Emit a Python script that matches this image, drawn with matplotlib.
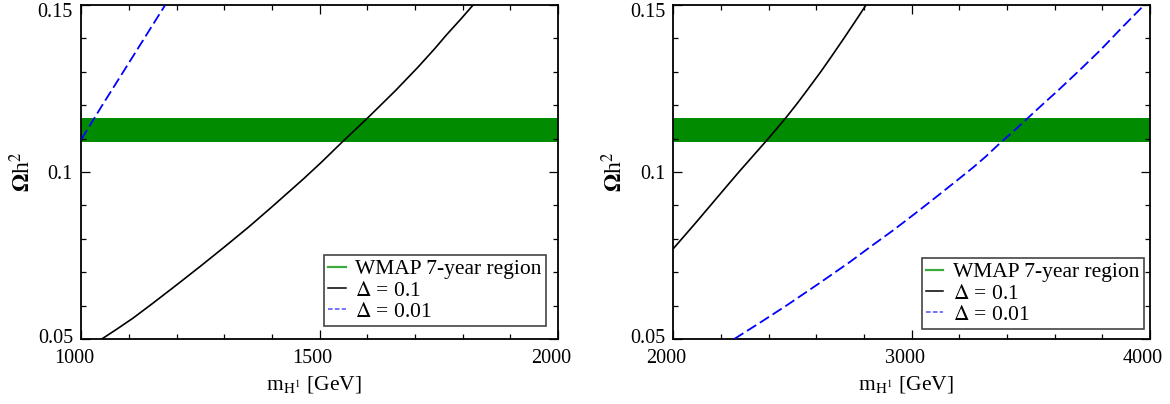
import numpy as np
import matplotlib
matplotlib.use('Agg')
import matplotlib.pyplot as plt
import matplotlib.transforms as mtransforms
from matplotlib.ticker import MultipleLocator, FuncFormatter
from matplotlib.lines import Line2D

plt.rcParams['font.family'] = ['Liberation Serif', 'DejaVu Serif']
plt.rcParams['mathtext.fontset'] = 'stix'

# WMAP 7-year band for Omega h^2
wmap_lo = 0.1089
wmap_hi = 0.1163

# left panel : m_H1 in 1000..2000 GeV
m_left_d01 = [1043, 1075, 1109, 1150, 1200, 1250, 1298, 1350, 1397, 1465, 1505, 1546, 1603, 1660, 1707, 1740, 1767, 1795, 1822]
oh2_left_d01 = [0.0500, 0.0530, 0.0563, 0.0607, 0.0662, 0.0718, 0.0773, 0.0834, 0.0892, 0.0978, 0.1031, 0.1088, 0.1165, 0.1245, 0.1315, 0.1367, 0.1412, 0.1456, 0.1500]
m_left_d001 = [1000, 1044, 1088, 1132, 1176]
oh2_left_d001 = [0.1098, 0.1200, 0.1300, 0.1400, 0.1500]

# right panel : m_H1 in 2000..4000 GeV
m_right_d01 = [2000, 2034, 2090, 2153, 2210, 2272, 2330, 2388, 2435, 2478, 2520, 2560, 2618, 2665, 2713, 2760, 2808]
oh2_right_d01 = [0.0771, 0.0799, 0.0845, 0.0898, 0.0946, 0.0998, 0.1045, 0.1092, 0.1131, 0.1168, 0.1206, 0.1244, 0.1300, 0.1348, 0.1398, 0.1448, 0.1500]
m_right_d001 = [2255, 2370, 2480, 2610, 2741, 2830, 2923, 3020, 3118, 3190, 3258, 3310, 3368, 3430, 3489, 3550, 3615, 3700, 3790, 3880, 3975]
oh2_right_d001 = [0.0500, 0.0552, 0.0603, 0.0666, 0.0731, 0.0778, 0.0826, 0.0879, 0.0934, 0.0975, 0.1014, 0.1046, 0.1085, 0.1124, 0.1163, 0.1203, 0.1245, 0.1302, 0.1364, 0.1431, 0.1500]

legend_labels = ['WMAP 7-year region', r'$\Delta$ = 0.1', r'$\Delta$ = 0.01']

green = '#008b00'
blue = '#0000ff'

fig = plt.figure(figsize=(11.7, 4.04), dpi=100)
ax1 = fig.add_axes([0.0695, 0.1609, 0.4074, 0.8267])
ax2 = fig.add_axes([0.5756, 0.1609, 0.4074, 0.8267])

panels = [
    (ax1, (1000, 2000), 500, 100, m_left_d01, oh2_left_d01, m_left_d001, oh2_left_d001, 0.975, 0.039),
    (ax2, (2000, 4000), 1000, 200, m_right_d01, oh2_right_d01, m_right_d001, oh2_right_d001, 0.9866, 0.03),
]

def ylab(v, p):
    s = '%.2f' % v
    return s.rstrip('0') if s.endswith('0') else s

for ax, xlim, xmaj, xmin, xa, ya, xb, yb, lx, ly in panels:
    ax.axhspan(wmap_lo, wmap_hi, color=green, lw=0, zorder=1)
    ax.plot(xa, ya, color='black', lw=1.2, zorder=3)
    ax.plot(xb, yb, color=blue, lw=1.3, dashes=(6.0, 2.4), zorder=3)

    ax.set_xlim(*xlim)
    ax.set_ylim(0.05, 0.15)
    ax.xaxis.set_major_locator(MultipleLocator(xmaj))
    ax.xaxis.set_minor_locator(MultipleLocator(xmin))
    ax.yaxis.set_major_locator(MultipleLocator(0.05))
    ax.yaxis.set_minor_locator(MultipleLocator(0.01))
    ax.yaxis.set_major_formatter(FuncFormatter(ylab))

    ax.tick_params(which='both', direction='in', top=True, right=True, width=0.9, labelsize=14.5)
    ax.tick_params(which='major', length=6.5, pad=6)
    ax.tick_params(axis='x', which='major', pad=7.5)
    ax.tick_params(which='minor', length=3.6)
    for s in ax.spines.values():
        s.set_linewidth(1.3)

    ax.set_xlabel(r'm$_{\mathrm{H}^1}$ [GeV]', fontsize=15.5)
    ax.set_ylabel(r'$\mathbf{\Omega}$h$^2$', fontsize=17)
    ax.xaxis.set_label_coords(0.488, -0.105)
    ax.yaxis.set_label_coords(-0.097, 0.5)

    handles = [Line2D([], [], color='#3daa3d', lw=1.6),
               Line2D([], [], color='black', lw=1.1),
               Line2D([], [], color='#5050ff', lw=1.1, dashes=(3, 1.5))]
    leg = ax.legend(handles, legend_labels, loc='lower right', bbox_to_anchor=(lx, ly),
                    borderaxespad=0, fontsize=15.5, handlelength=0.8, handletextpad=0.45,
                    labelspacing=0.05, borderpad=0.2, fancybox=False, framealpha=1)
    leg.get_frame().set_edgecolor('#444444')
    leg.get_frame().set_linewidth(1.2)

# xmgrace style: x tick labels a bit to the left, end y labels pulled inside
fig.canvas.draw()
for ax in (ax1, ax2):
    offset = mtransforms.ScaledTranslation(-0.07, 0, fig.dpi_scale_trans)
    for lab in ax.xaxis.get_majorticklabels():
        lab.set_transform(lab.get_transform() + offset)
    for lab in ax.yaxis.get_majorticklabels():
        if lab.get_text() == '0.15':
            lab.set_transform(lab.get_transform() + mtransforms.ScaledTranslation(0, -0.045, fig.dpi_scale_trans))
        elif lab.get_text() == '0.05':
            lab.set_transform(lab.get_transform() + mtransforms.ScaledTranslation(0, 0.025, fig.dpi_scale_trans))

fig.savefig('out.png', dpi=100)
